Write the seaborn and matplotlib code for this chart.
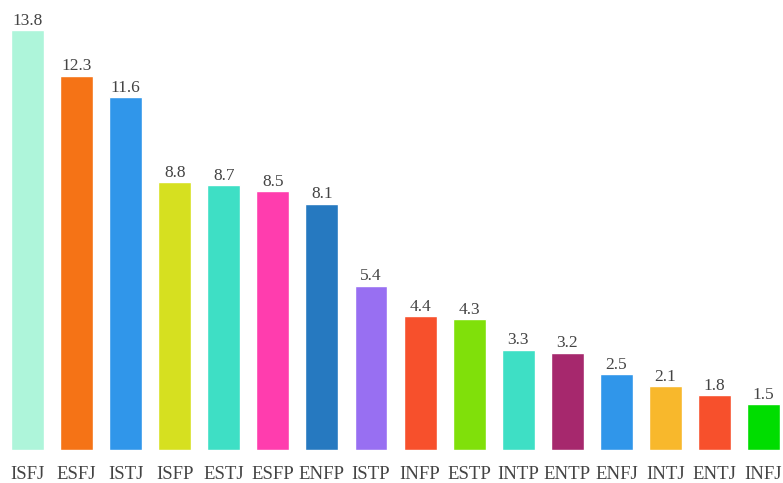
import matplotlib
matplotlib.use("Agg")
import matplotlib.pyplot as plt
import seaborn as sns
import pandas as pd

types = ["ISFJ", "ESFJ", "ISTJ", "ISFP", "ESTJ", "ESFP", "ENFP", "ISTP",
         "INFP", "ESTP", "INTP", "ENTP", "ENFJ", "INTJ", "ENTJ", "INFJ"]
values = [13.8, 12.3, 11.6, 8.8, 8.7, 8.5, 8.1, 5.4,
          4.4, 4.3, 3.3, 3.2, 2.5, 2.1, 1.8, 1.5]
colors = ["#aef5da", "#f57316", "#3096ea", "#d6e020", "#3edfc5", "#ff3dae",
          "#2679c0", "#986ff2", "#f7502c", "#80e00a", "#3edfc5", "#a6286d",
          "#3096ea", "#f8b82c", "#f7502c", "#00dd00"]

df = pd.DataFrame({"type": types, "value": values})

sns.set_style("white")
plt.rcParams["font.family"] = ["Liberation Serif", "DejaVu Serif"]

fig = plt.figure(figsize=(7.83, 4.83), dpi=100)
ax = fig.add_axes([0, 33 / 483, 1, 450 / 483])

sns.barplot(data=df, x="type", y="value", hue="type", palette=colors,
            legend=False, width=0.67, saturation=1, ax=ax)

for c in ax.containers:
    ax.bar_label(c, fmt="%.1f", padding=1, fontsize=12.5, color="#444444")

ax.set_xlim(-0.5604, 15.396)
ax.set_ylim(0, 14.79)
ax.set_xlabel("")
ax.set_ylabel("")
ax.set_yticks([])
ax.tick_params(axis="x", length=0, pad=11.5, labelsize=13.5, labelcolor="#444444")
for s in ax.spines.values():
    s.set_visible(False)

fig.savefig("out.png", dpi=100)
